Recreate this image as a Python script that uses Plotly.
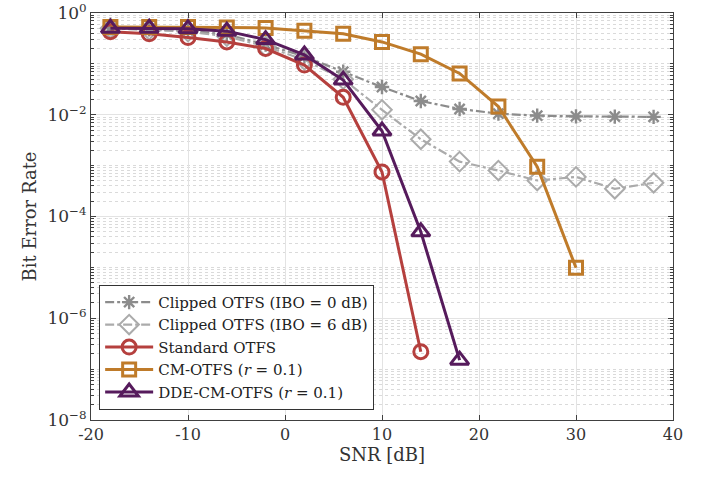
import plotly.graph_objects as go

snr = [-18, -14, -10, -6, -2, 2, 6, 10, 14, 18, 22, 26, 30, 34, 38]

ber_clip0 = [0.50, 0.48, 0.45, 0.38, 0.24, 0.14, 0.070, 0.035, 0.0186, 0.013, 0.0105, 0.0096, 0.0093, 0.0092, 0.0091]
ber_clip6 = [0.50, 0.47, 0.43, 0.35, 0.22, 0.12, 0.050, 0.0125, 0.0033, 0.0012, 0.0008, 0.00051, 0.00060, 0.00035, 0.00046]
snr_std = [-18, -14, -10, -6, -2, 2, 6, 10, 14]
ber_std = [0.43, 0.39, 0.33, 0.27, 0.20, 0.095, 0.022, 0.00075, 2.2e-7]
snr_cm = [-18, -14, -10, -6, -2, 2, 6, 10, 14, 18, 22, 26, 30]
ber_cm = [0.53, 0.53, 0.53, 0.52, 0.51, 0.45, 0.39, 0.27, 0.155, 0.065, 0.0145, 0.00095, 9.8e-6]
snr_dde = [-18, -14, -10, -6, -2, 2, 6, 10, 14, 18]
ber_dde = [0.50, 0.50, 0.49, 0.44, 0.30, 0.15, 0.048, 0.0048, 5.0e-5, 1.5e-7]

names = ["Clipped OTFS (IBO = 0 dB)", "Clipped OTFS (IBO = 6 dB)", "Standard OTFS",
         "CM-OTFS (<i>r</i> = 0.1)", "DDE-CM-OTFS (<i>r</i> = 0.1)"]

x_ticks = [-20, -10, 0, 10, 20, 30, 40]
x_ticktext = ["-20", "-10", "0", "10", "20", "30", "40"]
y_ticks = [1e-8, 1e-6, 1e-4, 1e-2, 1]
y_ticktext = ["10<sup>−8</sup>", "10<sup>−6</sup>", "10<sup>−4</sup>", "10<sup>−2</sup>", "10<sup>0</sup>"]

minor_vals = []
for k in range(-8, 0):
    for m in range(1, 10):
        v = m * 10 ** k
        if not (m == 1 and k % 2 == 0):
            minor_vals.append(v)

GRAY1 = "#8C8C8C"
GRAY2 = "#ABABAB"
RED = "#B5403E"
ORANGE = "#BF7B2A"
PURPLE = "#561B5C"

fig = go.Figure()
fig.add_trace(go.Scatter(x=snr, y=ber_clip0, name=names[0], mode="lines+markers",
                         line=dict(color=GRAY1, width=2.2, dash="dashdot"),
                         marker=dict(symbol="asterisk-open", size=12, color=GRAY1,
                                     line=dict(color=GRAY1, width=2.4))))
fig.add_trace(go.Scatter(x=snr, y=ber_clip6, name=names[1], mode="lines+markers",
                         line=dict(color=GRAY2, width=2.2, dash="dashdot"),
                         marker=dict(symbol="diamond-open", size=15, color=GRAY2,
                                     line=dict(color=GRAY2, width=2))))
fig.add_trace(go.Scatter(x=snr_std, y=ber_std, name=names[2], mode="lines+markers",
                         line=dict(color=RED, width=3),
                         marker=dict(symbol="circle-open", size=14, color=RED,
                                     line=dict(color=RED, width=3))))
fig.add_trace(go.Scatter(x=snr_cm, y=ber_cm, name=names[3], mode="lines+markers",
                         line=dict(color=ORANGE, width=3),
                         marker=dict(symbol="square-open", size=13, color=ORANGE,
                                     line=dict(color=ORANGE, width=3))))
fig.add_trace(go.Scatter(x=snr_dde, y=ber_dde, name=names[4], mode="lines+markers",
                         line=dict(color=PURPLE, width=3),
                         marker=dict(symbol="triangle-up-open", size=16, color=PURPLE,
                                     line=dict(color=PURPLE, width=3))))

FONT = "DejaVu Serif"
fig.update_layout(
    width=711, height=483,
    margin=dict(l=91, r=38, t=13, b=63),
    paper_bgcolor="white", plot_bgcolor="white",
    font=dict(family=FONT, size=16, color="#333333"),
    showlegend=True,
    legend=dict(x=0.014, y=0.025, xanchor="left", yanchor="bottom",
                bgcolor="white", bordercolor="#333333", borderwidth=1,
                font=dict(family=FONT, size=15, color="#222222"),
                tracegroupgap=0, itemwidth=48),
)
fig.update_xaxes(
    range=[-20, 40], tickvals=x_ticks, ticktext=x_ticktext, automargin=False,
    showgrid=True, gridcolor="#E3E3E3", gridwidth=1,
    showline=True, linecolor="#404040", linewidth=1, mirror="ticks",
    ticks="inside", ticklen=5, tickcolor="#404040", zeroline=False,
    tickfont=dict(family=FONT, size=16, color="#333333"),
    title=dict(text="SNR [dB]", font=dict(family=FONT, size=18, color="#333333"), standoff=4),
)
fig.update_yaxes(
    type="log", range=[-8, 0], tickvals=y_ticks, ticktext=y_ticktext, automargin=False,
    showgrid=True, gridcolor="#E3E3E3", gridwidth=1,
    showline=True, linecolor="#404040", linewidth=1, mirror="ticks",
    ticks="inside", ticklen=5, tickcolor="#404040", zeroline=False,
    tickfont=dict(family=FONT, size=17, color="#333333"),
    minor=dict(tickvals=minor_vals, showgrid=True, gridcolor="#DADADA", griddash="dot",
               gridwidth=1, ticks="inside", ticklen=3, tickcolor="#404040"),
    title=dict(text="Bit Error Rate", font=dict(family=FONT, size=18, color="#333333"), standoff=6),
)

fig.write_html("out.html")
